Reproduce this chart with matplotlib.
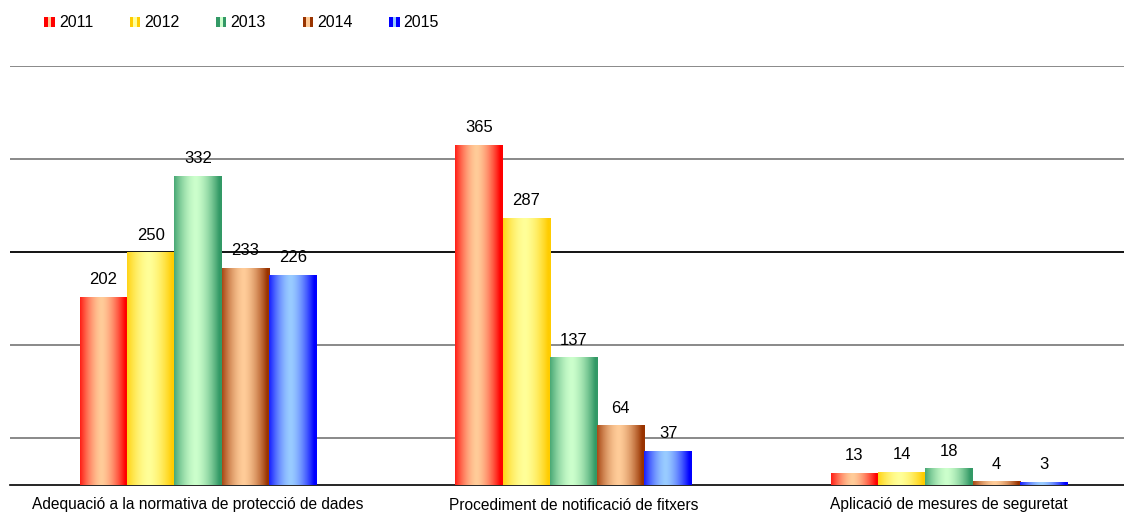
import matplotlib
matplotlib.use('Agg')
import matplotlib.pyplot as plt
import numpy as np
from matplotlib.colors import to_rgb
from matplotlib.patches import Rectangle
from matplotlib.legend_handler import HandlerBase

plt.rcParams['font.family'] = ['Liberation Sans', 'DejaVu Sans']

categories = ['Adequació a la normativa de protecció de dades',
              'Procediment de notificació de fitxers',
              'Aplicació de mesures de seguretat']
years = ['2011', '2012', '2013', '2014', '2015']
values = {
    '2011': [202, 365, 13],
    '2012': [250, 287, 14],
    '2013': [332, 137, 18],
    '2014': [233, 64, 4],
    '2015': [226, 37, 3],
}
grid_levels = [50, 150, 250, 350, 450]

# edge colour, centre colour of each year's gradient
edge_colors = ['#ff0000', '#ffcc00', '#339966', '#993300', '#0000ff']
mid_colors = ['#ffcc99', '#ffff99', '#ccffcc', '#ffcc99', '#99ccff']


def gradient_row(edge, mid, n=64):
    t = np.linspace(0, 1, n)
    w = np.clip(np.abs(t - 0.45) / 0.5, 0, 1) ** 1.6
    e = np.array(to_rgb(edge))
    m = np.array(to_rgb(mid))
    row = m[None, :] * (1 - w[:, None]) + e[None, :] * w[:, None]
    return row[None, :, :]


class Swatch:
    def __init__(self, edge, mid):
        self.edge = edge
        self.mid = mid


class GradientHandler(HandlerBase):
    def create_artists(self, legend, orig_handle, xdescent, ydescent,
                       width, height, fontsize, trans):
        arts = []
        cols = [orig_handle.edge, orig_handle.mid, orig_handle.edge]
        sw = width / 3
        for i, c in enumerate(cols):
            r = Rectangle((-xdescent + i * sw, -ydescent), sw, height,
                          facecolor=c, edgecolor='none', transform=trans)
            arts.append(r)
        return arts


fig = plt.figure(figsize=(11.24, 5.26), dpi=100)
ax = fig.add_axes([10 / 1124, 1 - 485 / 526, 1 - 10 / 1124, (485 - 66) / 526])

x = np.arange(len(categories))
bar_w = 0.126
for i, yr in enumerate(years):
    offs = (i - 2) * bar_w
    bars = ax.bar(x + offs, values[yr], bar_w, facecolor='none',
                  edgecolor='none', zorder=3)
    img = gradient_row(edge_colors[i], mid_colors[i])
    for b in bars:
        x0 = b.get_x()
        h = b.get_height()
        im = ax.imshow(img, extent=(x0, x0 + b.get_width(), 0, h),
                       aspect='auto', interpolation='bilinear', zorder=3)
        im.set_clip_path(b)
        ax.annotate(str(int(h)), (x0 + b.get_width() / 2, h),
                    xytext=(0, 7), textcoords='offset points',
                    ha='center', va='bottom', fontsize=12)

ax.set_xlim(-0.5007, 2.466)
ax.set_ylim(0, 450)
ax.set_yticks(grid_levels)
ax.tick_params(axis='y', length=0, labelleft=False)
ax.grid(axis='y', color='#808080', lw=1.3, zorder=0)
ax.yaxis.get_gridlines()[grid_levels.index(250)].set_color('black')
ax.set_xticks(x)
ax.set_xticklabels(categories, fontsize=11.2)
ax.tick_params(axis='x', length=0, pad=9)
for s in ['top', 'right', 'left']:
    ax.spines[s].set_visible(False)
ax.spines['bottom'].set_color('black')
ax.spines['bottom'].set_linewidth(1.2)
ax.set_axisbelow(True)

handles = [Swatch(e, m) for e, m in zip(edge_colors, mid_colors)]
fig.legend(handles, years, handler_map={Swatch: GradientHandler()},
           loc='upper left', bbox_to_anchor=(30 / 1124, 1 - 1 / 526),
           ncol=5, frameon=False, handlelength=0.65,
           handleheight=0.6, handletextpad=0.25, columnspacing=2.3,
           prop={'size': 11.5})

fig.savefig('out.png', dpi=100)
